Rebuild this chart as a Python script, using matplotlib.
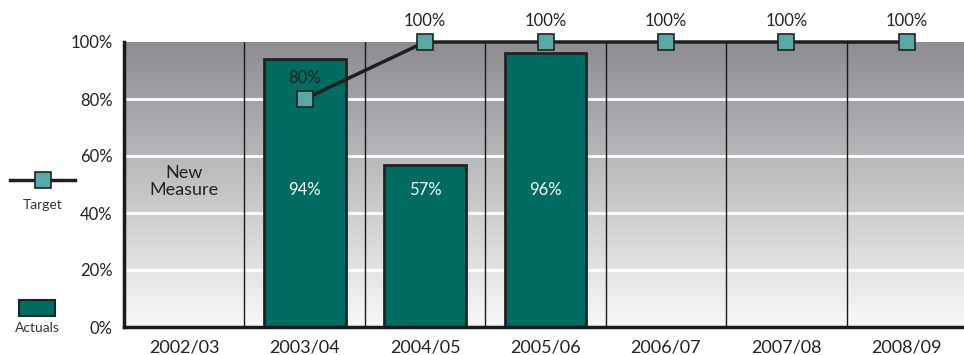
import numpy as np
import matplotlib
matplotlib.use('Agg')
import matplotlib.pyplot as plt
from matplotlib.patches import Rectangle
from matplotlib.lines import Line2D

plt.rcParams['font.family'] = ['Lato', 'DejaVu Sans']

# Data
years = ['2002/03', '2003/04', '2004/05', '2005/06', '2006/07', '2007/08', '2008/09']
actuals = [None, 94, 57, 96, None, None, None]
target = [None, 80, 100, 100, 100, 100, 100]
yticks = [0, 20, 40, 60, 80, 100]

bar_color = '#006b60'
marker_color = '#5aa8a6'
edge = '#222222'

fig = plt.figure(figsize=(9.64, 3.55), dpi=100)
ax = fig.add_axes([124 / 964, 28 / 355, 840 / 964, 285 / 355])

x = np.arange(len(years))
ax.set_xlim(-0.5, 6.5 - 3 / 120)
ax.set_ylim(0, 100)

# gradient background
grad = np.linspace(0, 1, 256).reshape(-1, 1)
top = np.array([0.55, 0.55, 0.57])
bot = np.array([0.975, 0.975, 0.975])
img = bot + (top - bot) * grad[:, :, None]
ax.imshow(img, extent=[-0.5, 6.5, 0, 100], aspect='auto', origin='lower', zorder=0)

# grid
for y in yticks[1:-1]:
    ax.axhline(y, color='white', lw=2, zorder=1)
for xb in x[:-1] + 0.5:
    ax.axvline(xb, color='#1a1a1a', lw=1, zorder=1)

# bars
for i, v in enumerate(actuals):
    if v is None:
        continue
    ax.bar(x[i], v, width=0.68, color=bar_color, edgecolor=edge, lw=2, zorder=2)
    ax.text(x[i], 48, f'{v}%', color='white', ha='center', va='center', fontsize=12, zorder=4)

ax.text(x[0], 51, 'New\nMeasure', ha='center', va='center', fontsize=13, color='#222222',
        linespacing=1.1, zorder=4)

# target line
tx = [x[i] for i, v in enumerate(target) if v is not None]
ty = [v for v in target if v is not None]
ax.plot(tx, ty, color='#1f1f1f', lw=2.5, marker='s', markersize=12,
        markerfacecolor=marker_color, markeredgecolor=edge, markeredgewidth=1.2,
        zorder=3, clip_on=False)
for xi, yi in zip(tx, ty):
    ax.text(xi, yi + 4.5, f'{yi}%', ha='center', va='bottom', fontsize=12, color='#222222', zorder=4)

# axes
for s in ['top', 'right']:
    ax.spines[s].set_visible(False)
for s in ['left', 'bottom']:
    ax.spines[s].set_linewidth(2.5)
    ax.spines[s].set_color('#1a1a1a')
    ax.spines[s].set_zorder(5)
ax.set_yticks(yticks)
ax.set_yticklabels([f'{v}%' for v in yticks], fontsize=12, color='#222222')
ax.set_xticks(x)
ax.set_xticklabels(years, fontsize=13, color='#222222')
ax.tick_params(axis='y', length=0, pad=8)
ax.tick_params(axis='x', length=0, pad=9)

# legend on the left
fig.add_artist(Line2D([10 / 964, 75 / 964], [1 - 180 / 355] * 2, color='#1f1f1f', lw=2.5))
fig.add_artist(Line2D([43 / 964], [1 - 180 / 355], marker='s', markersize=12,
                      markerfacecolor=marker_color, markeredgecolor=edge, markeredgewidth=1.2))
fig.text(43 / 964, 1 - 205 / 355, 'Target', ha='center', va='center', fontsize=10, color='#333333')
fig.add_artist(Rectangle((19 / 964, 1 - 316 / 355), 36 / 964, 16 / 355,
                         facecolor=bar_color, edgecolor=edge, lw=1.5))
fig.text(37 / 964, 1 - 328 / 355, 'Actuals', ha='center', va='center', fontsize=10, color='#333333')

fig.savefig('out.png', dpi=100)
